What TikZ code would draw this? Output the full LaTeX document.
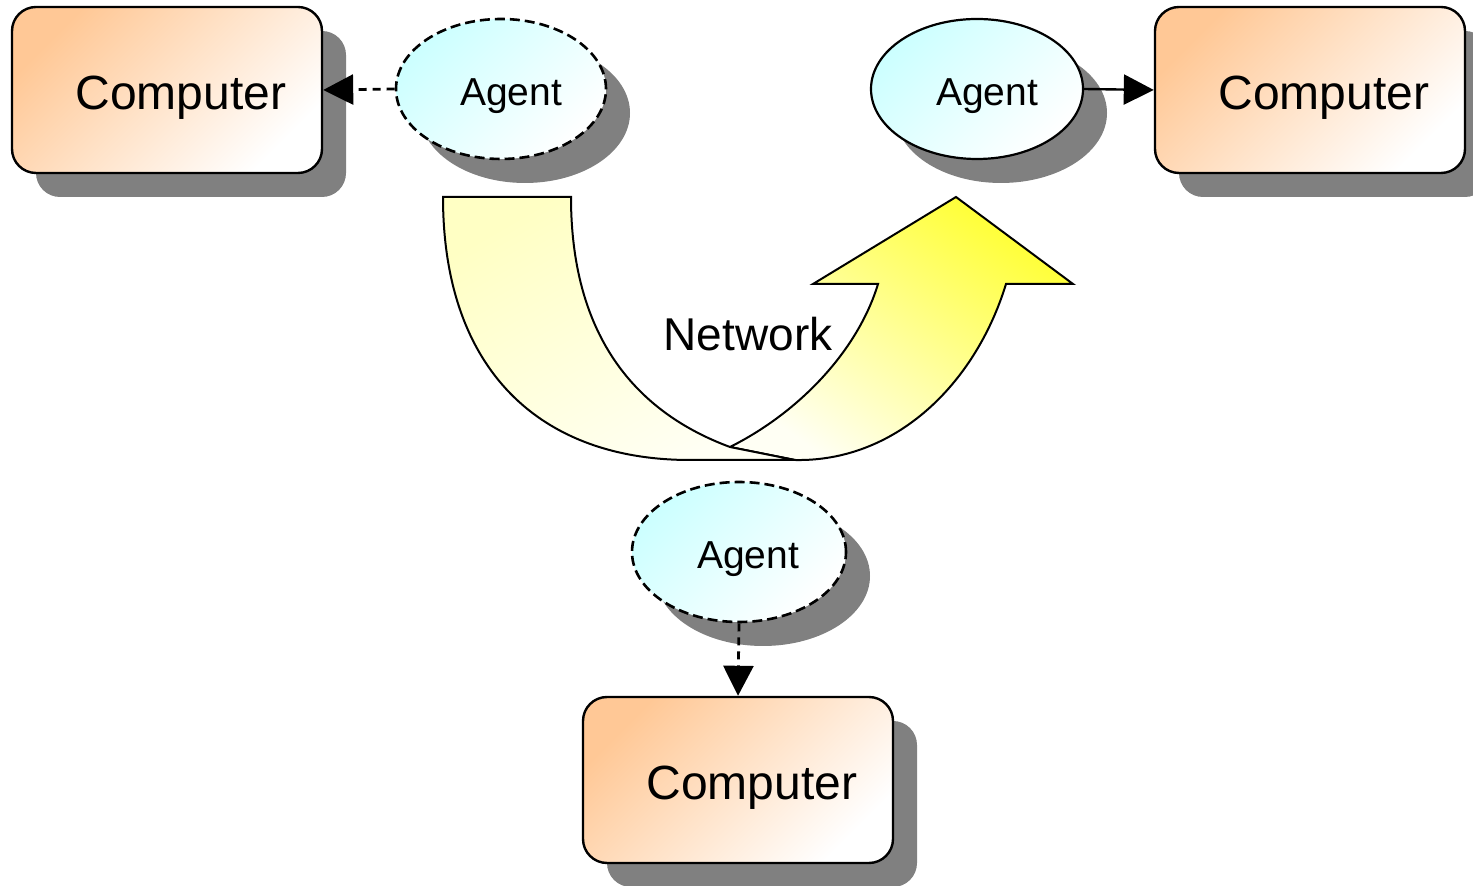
\documentclass[tikz,border=0pt]{standalone}
\usepackage{fontspec}
\setmainfont{Liberation Sans}
\usetikzlibrary{shapes.geometric,shadows,arrows.meta}

\definecolor{compcol}{HTML}{FFC896}
\definecolor{agentcol}{HTML}{CCFFFF}
\definecolor{shadowgray}{HTML}{808080}
\definecolor{netyellow}{HTML}{FFFF33}
\definecolor{netpale}{HTML}{FFFFC4}
\definecolor{netwhite}{HTML}{FFFFF4}

\tikzset{
  shadowed/.style={drop shadow={shadow xshift=12pt, shadow yshift=-12pt,
      fill=shadowgray, opacity=1}},
  computer/.style={shadowed, draw, line width=1.2pt, rounded corners=12pt,
      minimum width=155pt, minimum height=83pt, inner sep=0pt,
      top color=compcol, bottom color=white, shading angle=45},
  agent/.style={shadowed, ellipse, draw, line width=1.1pt,
      minimum width=105pt, minimum height=70pt, inner sep=0pt,
      top color=agentcol, bottom color=white, shading angle=45},
  agentdash/.style={agent, line width=1.3pt, dash pattern=on 5pt off 2.5pt},
  comptext/.style={font=\fontsize{24}{28}\selectfont},
  agenttext/.style={font=\fontsize{19.5}{23}\selectfont},
  link/.style={line width=1.2pt, -{Triangle[length=15pt,width=15pt]}},
  dlink/.style={link, line width=1.4pt, dash pattern=on 4pt off 3pt},
}

\begin{document}
\begin{tikzpicture}[x=0.5pt, y=-0.5pt]
    \useasboundingbox (0,0) rectangle (1473,886);

    % the network arrow (rising part first)
    \draw[line width=1pt, top color=netyellow, bottom color=netwhite, shading angle=-35]
        (730,447) .. controls (800,412) and (858,350) .. (878,284)
        -- (813,284) -- (956,197) -- (1073,284) -- (1006,284)
        .. controls (975,385) and (895,462) .. (795,460) -- cycle;
    % the falling band of the network
    \draw[line width=1pt, top color=netpale, bottom color=netwhite, shading angle=30]
        (443,197) -- (571,197) .. controls (571,330) and (630,410) .. (730,447)
        -- (795,460) -- (690,460) .. controls (540,460) and (443,370) .. (443,197) -- cycle;
    \node[font=\fontsize{23}{27}\selectfont] (net) at (748,334) {Network};

    % the three computers
    \node[computer, label={[comptext, xshift=7pt, yshift=-4pt]center:Computer}] (compA) at (167,90) {};
    \node[computer, label={[comptext, xshift=7pt, yshift=-4pt]center:Computer}] (compB) at (1310,90) {};
    \node[computer, label={[comptext, xshift=7pt, yshift=-4pt]center:Computer}] (compC) at (738,780) {};

    % the agents
    \node[agentdash, label={[agenttext, xshift=5pt, yshift=-3.5pt]center:Agent}] (agentA) at (501,89) {};
    \node[agent, minimum width=106pt, label={[agenttext, xshift=5pt, yshift=-3.5pt]center:Agent}] (agentB) at (977,89) {};
    \node[agentdash, minimum width=107pt, label={[agenttext, xshift=4.5pt, yshift=-3.5pt]center:Agent}] (agentC) at (739,552) {};

    % agents to computers
    \draw[dlink] (agentA.west) -- (compA.east);
    \draw[link] (agentB.east) -- (compB.west);
    \draw[dlink] (agentC.south) -- (compC.north);
\end{tikzpicture}
\end{document}
